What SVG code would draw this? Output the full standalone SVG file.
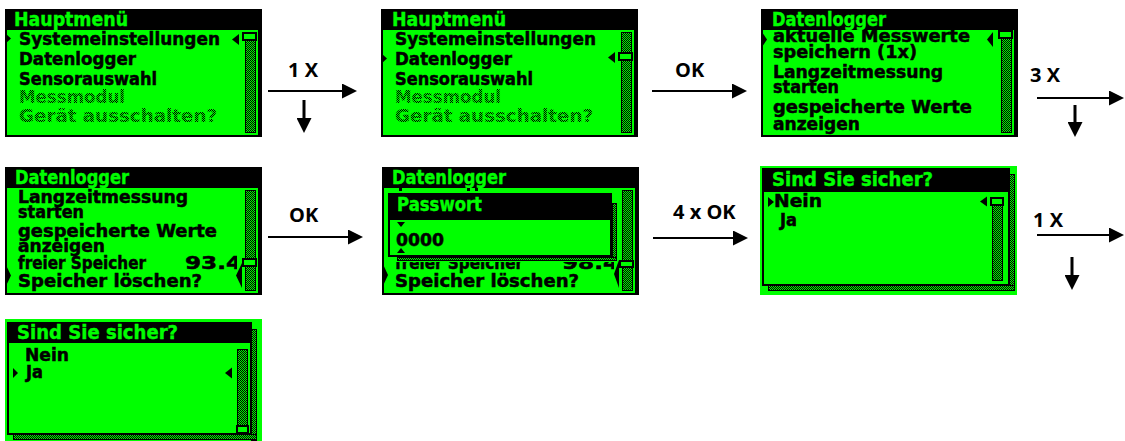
<svg xmlns="http://www.w3.org/2000/svg" width="1125" height="441" viewBox="0 0 1125 441">
  <style>
    .lcd { font-family: "DejaVu Sans", "Liberation Sans", sans-serif; font-weight: bold; font-size: 17.5px; fill: #000; stroke: #000; stroke-width: 0.5; }
    .ttl { font-family: "DejaVu Sans", "Liberation Sans", sans-serif; font-weight: bold; font-size: 19px; fill: #00ff00; stroke: #00ff00; stroke-width: 0.4; }
    .dim { fill: url(#inkDots); stroke: none; }
    .frame { fill: #000; }
    .panel { fill: #00ff00; }
    .track { fill: url(#dither); stroke: #000; stroke-width: 1; }
    .thumb { fill: #00ff00; stroke: #000; stroke-width: 2; }
    .ptr { fill: #000; }
    .shade { fill: url(#dither); stroke: #000; stroke-width: 1; }
    .box { fill: #00ff00; stroke: #000; stroke-width: 2; }
    .lbl { font-family: "Open Sans", "Noto Sans", sans-serif; font-weight: bold; font-size: 20px; fill: #000; }
    .conn line { stroke: #000; stroke-width: 2; marker-end: url(#head); }
    .conn line.down { stroke-width: 3; }
  </style>
  <defs>
    <!-- 1px checker used for scroll tracks and dialog shadows -->
    <pattern id="dither" width="2" height="2" patternUnits="userSpaceOnUse">
      <rect width="2" height="2" fill="#00ff00"/>
      <rect width="1" height="1" fill="#000"/>
      <rect x="1" y="1" width="1" height="1" fill="#000"/>
    </pattern>
    <!-- dotted ink for disabled menu entries -->
    <pattern id="inkDots" width="2" height="2" patternUnits="userSpaceOnUse">
      <rect width="1" height="1" fill="#000"/>
      <rect x="1" y="1" width="1" height="1" fill="#000"/>
    </pattern>
    <clipPath id="pc"><rect x="2" y="21" width="251" height="105"/></clipPath>
    <clipPath id="pcNarrow"><rect x="2" y="21" width="230" height="105"/></clipPath>
    <clipPath id="pcBelow"><rect x="2" y="95" width="230" height="31"/></clipPath>
    <marker id="head" markerUnits="userSpaceOnUse" markerWidth="15" markerHeight="15" viewBox="0 0 15 15" refX="7" refY="7.5" orient="auto">
      <path d="M0,0 L15,7.5 L0,15 z" fill="#000"/>
    </marker>
  </defs>

  <rect width="1125" height="441" fill="#fff"/>

  <!-- Hauptmenü, Systemeinstellungen selected -->
  <g id="screen-main-1" transform="translate(5,9)">
    <rect class="frame" width="257" height="128"/>
    <text class="ttl" x="9" y="17" textLength="114" lengthAdjust="spacingAndGlyphs">Hauptmenü</text>
    <rect class="panel" x="2" y="21" width="251" height="105"/>
    <g clip-path="url(#pc)">
      <text class="lcd" x="14" y="36" textLength="201" lengthAdjust="spacingAndGlyphs">Systemeinstellungen</text>
      <text class="lcd" x="14" y="56" textLength="117" lengthAdjust="spacingAndGlyphs">Datenlogger</text>
      <text class="lcd" x="14" y="76" textLength="138" lengthAdjust="spacingAndGlyphs">Sensorauswahl</text>
      <text class="lcd dim" x="14" y="94" textLength="106" lengthAdjust="spacingAndGlyphs">Messmodul</text>
      <text class="lcd dim" x="14" y="113" textLength="198" lengthAdjust="spacingAndGlyphs">Gerät ausschalten?</text>
    </g>
    <polygon class="ptr" points="0,24 6,29.5 0,35"/>
    <rect class="track" x="240.5" y="23.5" width="10" height="100"/>
    <rect class="thumb" x="238" y="24" width="13" height="7"/>
    <polygon class="ptr" points="234,25 227,30.5 234,36"/>
  </g>

  <!-- Hauptmenü, Datenlogger selected -->
  <g id="screen-main-2" transform="translate(381,9)">
    <rect class="frame" width="257" height="128"/>
    <text class="ttl" x="11" y="17" textLength="114" lengthAdjust="spacingAndGlyphs">Hauptmenü</text>
    <rect class="panel" x="2" y="21" width="251" height="105"/>
    <g clip-path="url(#pc)">
      <text class="lcd" x="14" y="36" textLength="201" lengthAdjust="spacingAndGlyphs">Systemeinstellungen</text>
      <text class="lcd" x="14" y="56" textLength="117" lengthAdjust="spacingAndGlyphs">Datenlogger</text>
      <text class="lcd" x="14" y="76" textLength="138" lengthAdjust="spacingAndGlyphs">Sensorauswahl</text>
      <text class="lcd dim" x="14" y="94" textLength="106" lengthAdjust="spacingAndGlyphs">Messmodul</text>
      <text class="lcd dim" x="14" y="113" textLength="198" lengthAdjust="spacingAndGlyphs">Gerät ausschalten?</text>
    </g>
    <polygon class="ptr" points="0,44 6,49.5 0,55"/>
    <rect class="track" x="240.5" y="23.5" width="10" height="100"/>
    <rect class="thumb" x="238" y="44" width="13" height="7"/>
    <polygon class="ptr" points="234,43 227,48.5 234,54"/>
  </g>

  <!-- Datenlogger menu, first entry selected; long entries wrap onto two lines -->
  <g id="screen-logger-1" transform="translate(761,9)">
    <rect class="frame" width="257" height="128"/>
    <text class="ttl" x="11" y="17" textLength="114" lengthAdjust="spacingAndGlyphs">Datenlogger</text>
    <rect class="panel" x="2" y="21" width="251" height="105"/>
    <g clip-path="url(#pc)">
      <text class="lcd"><tspan x="12" y="33" textLength="197" lengthAdjust="spacingAndGlyphs">aktuelle Messwerte</tspan><tspan x="12" y="49" textLength="144" lengthAdjust="spacingAndGlyphs">speichern (1x)</tspan></text>
      <text class="lcd"><tspan x="12" y="69" textLength="170" lengthAdjust="spacingAndGlyphs">Langzeitmessung</tspan><tspan x="12" y="84" textLength="66" lengthAdjust="spacingAndGlyphs">starten</tspan></text>
      <text class="lcd"><tspan x="12" y="104" textLength="199" lengthAdjust="spacingAndGlyphs">gespeicherte Werte</tspan><tspan x="12" y="121" textLength="87" lengthAdjust="spacingAndGlyphs">anzeigen</tspan></text>
    </g>
    <polygon class="ptr" points="1,23 6,30.5 1,38"/>
    <rect class="track" x="240.5" y="23.5" width="10" height="100"/>
    <rect class="thumb" x="238" y="22" width="13" height="7"/>
    <polygon class="ptr" points="232,23 226,30.5 232,38"/>
  </g>

  <!-- Datenlogger menu, scrolled to the end -->
  <g id="screen-logger-2" transform="translate(5,167)">
    <rect class="frame" width="257" height="128"/>
    <text class="ttl" x="10" y="17" textLength="114" lengthAdjust="spacingAndGlyphs">Datenlogger</text>
    <rect class="panel" x="2" y="21" width="251" height="105"/>
    <g clip-path="url(#pcNarrow)">
      <text class="lcd"><tspan x="13" y="36" textLength="170" lengthAdjust="spacingAndGlyphs">Langzeitmessung</tspan><tspan x="13" y="51" textLength="66" lengthAdjust="spacingAndGlyphs">starten</tspan></text>
      <text class="lcd"><tspan x="13" y="70" textLength="199" lengthAdjust="spacingAndGlyphs">gespeicherte Werte</tspan><tspan x="13" y="85" textLength="87" lengthAdjust="spacingAndGlyphs">anzeigen</tspan></text>
      <text class="lcd" x="13" y="102" textLength="128" lengthAdjust="spacingAndGlyphs">freier Speicher</text>
      <text class="lcd" x="180" y="102" textLength="57" lengthAdjust="spacingAndGlyphs">93.4</text>
      <text class="lcd" x="13" y="120" textLength="184" lengthAdjust="spacingAndGlyphs">Speicher löschen?</text>
    </g>
    <polygon class="ptr" points="0,96 6,108.5 0,121"/>
    <rect class="track" x="240.5" y="23.5" width="10" height="100"/>
    <rect class="thumb" x="238" y="92" width="13" height="7"/>
    <polygon class="ptr" points="237,96 231,108.5 237,121"/>
  </g>

  <!-- Password prompt over the Datenlogger menu -->
  <g id="screen-password" transform="translate(382,167)">
    <rect class="frame" width="257" height="128"/>
    <text class="ttl" x="10" y="17" textLength="114" lengthAdjust="spacingAndGlyphs">Datenlogger</text>
    <rect class="panel" x="2" y="21" width="251" height="105"/>
    <rect class="ptr" x="17" y="21" width="3" height="3"/>
    <rect class="ptr" x="85" y="21" width="3" height="3"/>
    <rect class="ptr" x="93" y="21" width="3" height="3"/>
    <g clip-path="url(#pcBelow)">
      <text class="lcd" x="13" y="102" textLength="128" lengthAdjust="spacingAndGlyphs">freier Speicher</text>
      <text class="lcd" x="180" y="102" textLength="57" lengthAdjust="spacingAndGlyphs">98.4</text>
      <text class="lcd" x="13" y="120" textLength="184" lengthAdjust="spacingAndGlyphs">Speicher löschen?</text>
    </g>
    <polygon class="ptr" points="0,95 6,108 0,121"/>
    <rect class="track" x="240.5" y="23.5" width="10" height="100"/>
    <rect class="thumb" x="238" y="94" width="13" height="6"/>
    <polygon class="ptr" points="237,93 232,107 237,121"/>
    <!-- dialog -->
    <rect class="shade" x="230.5" y="36.5" width="4" height="57"/>
    <rect class="shade" x="15.5" y="90.5" width="219" height="3"/>
    <rect class="frame" x="6" y="26" width="224" height="64"/>
    <text class="ttl" x="15" y="44" textLength="85" lengthAdjust="spacingAndGlyphs">Passwort</text>
    <rect class="panel" x="8" y="53" width="220" height="35"/>
    <polygon class="ptr" points="15,55 23,55 19,60"/>
    <text class="lcd" x="14" y="79" font-size="19" textLength="48" lengthAdjust="spacingAndGlyphs">0000</text>
    <polygon class="ptr" points="15,86 23,86 19,81"/>
  </g>

  <!-- Confirmation dialog, Nein selected -->
  <g id="screen-confirm-1" transform="translate(760,166)">
    <rect class="panel" width="257" height="129"/>
    <rect class="shade" x="249.5" y="8.5" width="5" height="116"/>
    <rect class="shade" x="8.5" y="119.5" width="246" height="5"/>
    <rect class="box" x="3" y="3" width="246" height="116"/>
    <rect class="frame" x="2" y="2" width="248" height="24"/>
    <text class="ttl" x="12" y="20" textLength="161" lengthAdjust="spacingAndGlyphs">Sind Sie sicher?</text>
    <polygon class="ptr" points="8,31 14,36 8,41"/>
    <text class="lcd" x="14" y="41" textLength="48" lengthAdjust="spacingAndGlyphs">Nein</text>
    <text class="lcd" x="20" y="60" textLength="17" lengthAdjust="spacingAndGlyphs">Ja</text>
    <rect class="track" x="232.5" y="31.5" width="10" height="83"/>
    <rect class="thumb" x="231" y="32" width="12" height="7"/>
    <polygon class="ptr" points="227,30.5 220,35.5 227,40.5"/>
  </g>

  <!-- Confirmation dialog, Ja selected -->
  <g id="screen-confirm-2" transform="translate(5,319)">
    <rect class="panel" width="257" height="122"/>
    <rect class="shade" x="246.5" y="10.5" width="5" height="111"/>
    <rect class="shade" x="8.5" y="115.5" width="243" height="5"/>
    <rect class="box" x="3" y="4" width="243" height="111"/>
    <rect class="frame" x="2" y="3" width="245" height="21"/>
    <text class="ttl" x="12" y="20" textLength="161" lengthAdjust="spacingAndGlyphs">Sind Sie sicher?</text>
    <text class="lcd" x="20" y="42" textLength="44" lengthAdjust="spacingAndGlyphs">Nein</text>
    <polygon class="ptr" points="8,49 13,54 8,59"/>
    <text class="lcd" x="21" y="59" textLength="17" lengthAdjust="spacingAndGlyphs">Ja</text>
    <rect class="track" x="232.5" y="30.5" width="10" height="76"/>
    <rect class="thumb" x="232" y="107" width="11" height="7"/>
    <polygon class="ptr" points="227,48.5 220,54 227,59.5"/>
  </g>

  <!-- key presses between the screens -->
  <g id="connectors" class="conn">
    <line x1="268" y1="91" x2="349" y2="91"/>
    <line class="down" x1="304" y1="100" x2="304" y2="125"/>
    <text class="lbl" x="288" y="77">1 X</text>

    <line x1="652" y1="91" x2="739" y2="91"/>
    <text class="lbl" x="675" y="77">OK</text>

    <line x1="1037" y1="98" x2="1116" y2="98"/>
    <line class="down" x1="1075" y1="105" x2="1075" y2="129"/>
    <text class="lbl" x="1030" y="82">3 X</text>

    <line x1="268" y1="237" x2="355" y2="237"/>
    <text class="lbl" x="289" y="222">OK</text>

    <line x1="653" y1="238" x2="740" y2="238"/>
    <text class="lbl" x="673" y="219">4 x OK</text>

    <line x1="1037" y1="235" x2="1116" y2="235"/>
    <line class="down" x1="1072" y1="257" x2="1072" y2="282"/>
    <text class="lbl" x="1033" y="227">1 X</text>
  </g>
</svg>
